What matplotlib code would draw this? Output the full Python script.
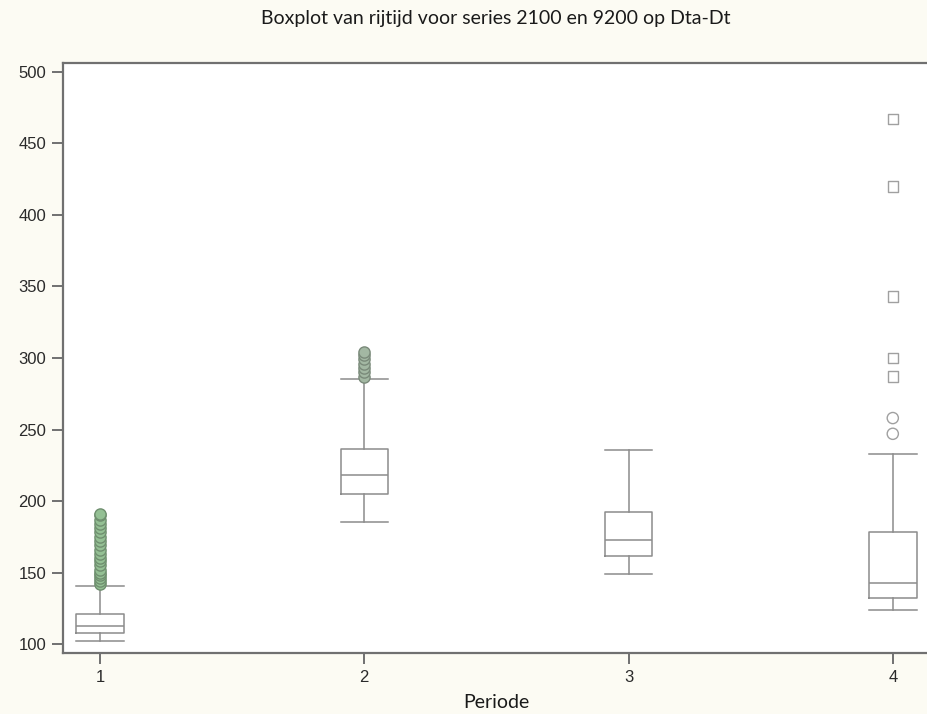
import matplotlib
matplotlib.use("Agg")
import matplotlib.pyplot as plt

# rijtijd per periode (seconden)
periodes = [1, 2, 3, 4]
whisker_lo = [102, 185, 149, 124]
q1 = [107.5, 205, 161.5, 132]
median = [112.5, 218, 172.5, 143]
q3 = [121, 236.5, 192, 178]
whisker_hi = [140.5, 285, 236, 233]

# uitschieters
outliers_p1 = [142, 144, 146, 148, 150, 152, 155, 158, 160, 163, 166, 169,
               172, 175, 178, 181, 184, 187, 190, 191]
outliers_p2 = [287, 290, 293, 296, 299, 302, 304]
outliers_p4_mild = [247, 258]
outliers_p4_extreme = [287, 300, 343, 420, 467]

LINE = "#8c8c8c"
fig = plt.figure(figsize=(9.27, 7.14), dpi=100, facecolor="#fcfbf3")
ax = fig.add_axes([0.068, 0.0854, 0.935, 0.8264])
ax.set_facecolor("white")

stats = []
for i, p in enumerate(periodes):
    stats.append(dict(med=median[i], q1=q1[i], q3=q3[i],
                      whislo=whisker_lo[i], whishi=whisker_hi[i], fliers=[]))

ax.bxp(stats, positions=periodes, widths=0.18, capwidths=0.18,
       showfliers=False, patch_artist=False,
       boxprops=dict(color=LINE, linewidth=1.1),
       medianprops=dict(color=LINE, linewidth=1.1),
       whiskerprops=dict(color=LINE, linewidth=1.1),
       capprops=dict(color=LINE, linewidth=1.1))

ax.scatter([1] * len(outliers_p1), outliers_p1, s=65, marker="o",
           facecolor="#94c094", edgecolor="#6f8f6f", linewidth=1.0, zorder=3)
ax.scatter([2] * len(outliers_p2), outliers_p2, s=65, marker="o",
           facecolor="#a3b8a3", edgecolor="#7a8a7a", linewidth=1.0, zorder=3)
ax.scatter([4] * len(outliers_p4_mild), outliers_p4_mild, s=65, marker="o",
           facecolor="none", edgecolor="#a0a0a0", linewidth=1.0, zorder=3)
ax.scatter([4] * len(outliers_p4_extreme), outliers_p4_extreme, s=55, marker="s",
           facecolor="none", edgecolor="#a0a0a0", linewidth=1.0, zorder=3)

ax.set_xlim(0.86, 4.14)
ax.set_ylim(93.7, 506.3)
ax.set_xticks(periodes)
ax.set_yticks(range(100, 501, 50))

for side in ("left", "bottom", "top"):
    ax.spines[side].set_color("#707070")
    ax.spines[side].set_linewidth(1.6)
ax.spines["right"].set_visible(False)

ax.tick_params(axis="both", direction="out", length=8, width=1.4, color="#707070",
               labelsize=12, labelcolor="#2a2a2a", pad=4)
for lab in ax.get_xticklabels() + ax.get_yticklabels():
    lab.set_family("Liberation Sans")

ax.set_xlabel("Periode", fontsize=14, family="Lato", color="#1a1a1a", labelpad=7)
fig.text(0.535, 0.974, "Boxplot van rijtijd voor series 2100 en 9200 op Dta-Dt",
         ha="center", va="center", fontsize=14, family="Lato", color="#1a1a1a")

fig.savefig("out.png", dpi=100, facecolor=fig.get_facecolor())
